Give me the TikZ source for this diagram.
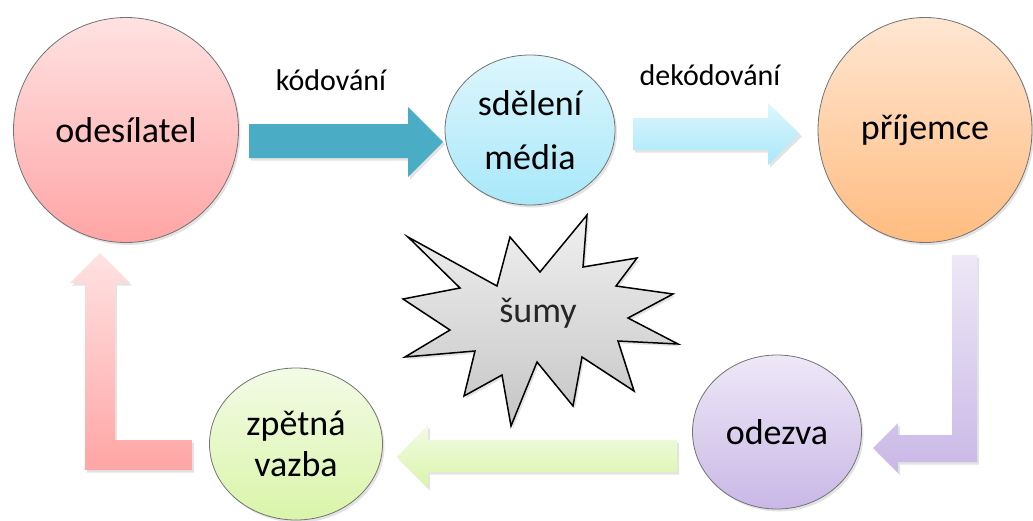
\documentclass[tikz,border=0pt]{standalone}
\usepackage{fontspec}
\setmainfont{Carlito}
\usetikzlibrary{shapes.geometric,shadows}

\definecolor{pinkTop}{HTML}{FFE2E2}
\definecolor{pinkBot}{HTML}{FFA5A5}
\definecolor{cyanTop}{HTML}{DDF6FD}
\definecolor{cyanBot}{HTML}{A8E8F9}
\definecolor{orangeTop}{HTML}{FFE6D2}
\definecolor{orangeBot}{HTML}{FFBC80}
\definecolor{lilacTop}{HTML}{EEE8F7}
\definecolor{lilacBot}{HTML}{C9B8E6}
\definecolor{limeTop}{HTML}{F3FBE6}
\definecolor{limeBot}{HTML}{D9F5A9}
\definecolor{tealArrow}{HTML}{4BACC6}

\begin{document}
\begin{tikzpicture}[x=1pt,y=-1pt,
	softshadow/.style={drop shadow={opacity=0.22, shadow xshift=2pt, shadow yshift=-2.5pt}},
	bubble/.style={ellipse, draw=black!55, line width=0.8pt, inner sep=0pt, align=center, softshadow, font=\fontsize{36}{54}\selectfont},
	blockarrow/.style={softshadow},
	lbl/.style={font=\fontsize{30}{36}\selectfont}]

		\useasboundingbox (0,0) rectangle (1033,520);

		\fill[blockarrow, tealArrow] (249,124) -- (408,124) -- (408,107) -- (443,142) -- (408,177) -- (408,158) -- (249,158) -- cycle;

		\shade[blockarrow, top color=cyanTop, bottom color=cyanBot] (633,118) -- (768,118) -- (768,103) -- (800,134) -- (768,165) -- (768,150) -- (633,150) -- cycle;

		\shade[blockarrow, top color=lilacTop, bottom color=lilacBot] (952,255) -- (977,255) -- (977,462) -- (898,462) -- (898,473) -- (873,448) -- (898,423) -- (898,435) -- (952,435) -- cycle;

		\shade[blockarrow, top color=limeTop, bottom color=limeBot] (677,440) -- (677,472) -- (428,472) -- (428,488) -- (397,457) -- (428,425) -- (428,440) -- cycle;

		\shade[blockarrow, top color=pinkTop, bottom color=pinkBot] (192,440) -- (115,440) -- (115,283) -- (130,283) -- (100,253) -- (70,283) -- (85,283) -- (85,470) -- (192,470) -- cycle;

		\node[bubble, minimum width=225pt, minimum height=225pt, top color=pinkTop, bottom color=pinkBot] (sender) at (126,130) {odesílatel};

		\node[bubble, minimum width=170pt, minimum height=150pt, top color=cyanTop, bottom color=cyanBot] (message) at (530,130) {sdělení\\média};

		\node[bubble, minimum width=214pt, minimum height=225pt, top color=orangeTop, bottom color=orangeBot] (receiver) at (925,130) {příjemce};

		\node[bubble, minimum width=169pt, minimum height=154pt, top color=lilacTop, bottom color=lilacBot] (response) at (777,432) {odezva};

		\node[bubble, minimum width=173pt, minimum height=152pt, top color=limeTop, bottom color=limeBot, font=\fontsize{36}{41}\selectfont] (feedback) at (296,444) {zpětná\\vazba};

		\shade[softshadow, top color=gray!12, bottom color=gray!45, draw=black, line width=1.5pt, line join=miter]
		(408,237) -- (497,286) -- (510,237) -- (540,272) -- (587,215) -- (583,267) -- (637,258) -- (616,286)
		-- (673,294) -- (628,318) -- (678,344) -- (618,341) -- (634,391) -- (582,357) -- (573,406) -- (537,362)
		-- (511,426) -- (502,375) -- (464,396) -- (475,351) -- (405,357) -- (450,330) -- (403,299) -- (460,288) -- cycle;

		\node[font=\fontsize{36}{40}\selectfont, text=black!85] (noise) at (538,313) {šumy};

		\node[lbl] (encoding) at (331,80) {kódování};

		\node[lbl] (decoding) at (710,75) {dekódování};

	\end{tikzpicture}
\end{document}
